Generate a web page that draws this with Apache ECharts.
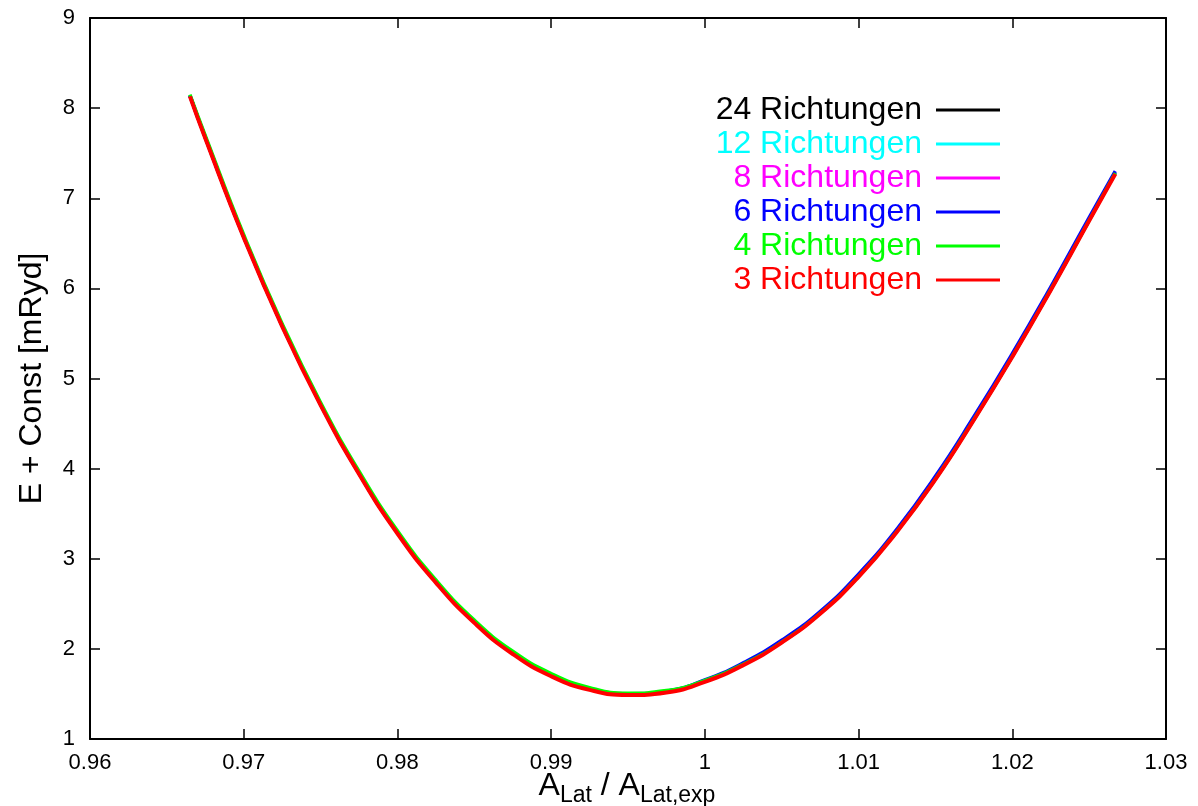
<!DOCTYPE html>
<html>
<head>
<meta charset="utf-8">
<script src="https://cdn.jsdelivr.net/npm/echarts@6/dist/echarts.min.js"></script>
<style>
html,body{margin:0;padding:0;background:#fff;}
#chart{width:1198px;height:806px;}
</style>
</head>
<body>
<div id="chart"></div>
<script>
// ---- data ----
const xs  = [0.9665, 0.9675, 0.97, 0.9725, 0.975, 0.9775, 0.98, 0.9825, 0.985, 0.9875, 0.99, 0.9925, 0.995, 0.9975, 1.0, 1.0025, 1.005, 1.0075, 1.01, 1.0125, 1.015, 1.0175, 1.02, 1.0225, 1.025, 1.0267];
const e24 = [8.14, 7.675, 6.575, 5.588, 4.714, 3.951, 3.29, 2.745, 2.299, 1.953, 1.706, 1.555, 1.498, 1.527, 1.645, 1.83, 2.08, 2.40, 2.81, 3.31, 3.89, 4.55, 5.25, 5.99, 6.76, 7.285];
const e12 = [8.14, 7.675, 6.575, 5.588, 4.714, 3.951, 3.29, 2.745, 2.299, 1.953, 1.706, 1.555, 1.498, 1.527, 1.645, 1.83, 2.08, 2.40, 2.81, 3.31, 3.89, 4.55, 5.25, 5.99, 6.76, 7.285];
const e8  = [8.14, 7.675, 6.575, 5.588, 4.714, 3.951, 3.29, 2.745, 2.299, 1.955, 1.71, 1.56, 1.503, 1.53, 1.645, 1.83, 2.08, 2.40, 2.81, 3.31, 3.89, 4.55, 5.25, 5.99, 6.76, 7.285];
const e6  = [8.14, 7.675, 6.575, 5.588, 4.714, 3.951, 3.29, 2.745, 2.299, 1.953, 1.706, 1.555, 1.498, 1.53, 1.655, 1.845, 2.095, 2.415, 2.83, 3.33, 3.915, 4.575, 5.275, 6.015, 6.785, 7.30];
const e4  = [8.15, 7.695, 6.595, 5.608, 4.734, 3.971, 3.31, 2.765, 2.319, 1.973, 1.726, 1.57, 1.508, 1.537, 1.65, 1.83, 2.075, 2.395, 2.805, 3.305, 3.885, 4.545, 5.245, 5.985, 6.755, 7.28];
const e3  = [8.13, 7.665, 6.565, 5.578, 4.704, 3.941, 3.28, 2.735, 2.289, 1.943, 1.696, 1.545, 1.488, 1.517, 1.635, 1.82, 2.07, 2.39, 2.80, 3.30, 3.88, 4.54, 5.24, 5.98, 6.75, 7.27];
const seriesNames = ['24 Richtungen', '12 Richtungen', '8 Richtungen', '6 Richtungen', '4 Richtungen', '3 Richtungen'];
const seriesColors = ['#000000', '#00ffff', '#ff00ff', '#0000ff', '#00ff00', '#ff0000'];
const seriesValues = [e24, e12, e8, e6, e4, e3];
const xTicks = [0.96, 0.97, 0.98, 0.99, 1.0, 1.01, 1.02, 1.03];
const yTicks = [1, 2, 3, 4, 5, 6, 7, 8, 9];

const FONT = '"Liberation Sans", Arial, Helvetica, sans-serif';
const chart = echarts.init(document.getElementById('chart'), null, {renderer: 'canvas'});

const series = seriesNames.map((name, i) => ({
  name: name,
  type: 'line',
  xAxisIndex: 0,
  yAxisIndex: 0,
  data: xs.map((x, j) => [x, seriesValues[i][j]]),
  smooth: true,
  showSymbol: false,
  symbol: 'none',
  lineStyle: {color: seriesColors[i], width: i === 5 ? 4 : 3.5},
  itemStyle: {color: seriesColors[i]},
  z: 2 + i
}));

const axisCommon = {
  type: 'value',
  axisLine: {show: true, onZero: false, lineStyle: {color: '#000', width: 2}},
  axisTick: {show: true, inside: true, length: 10, lineStyle: {color: '#000', width: 1.5}},
  splitLine: {show: false},
  minorTick: {show: false}
};

const option = {
  animation: false,
  backgroundColor: '#ffffff',
  grid: {left: 90, right: 32, top: 18, bottom: 67, containLabel: false},
  legend: {
    orient: 'vertical',
    align: 'right',
    right: 193,
    top: 89,
    icon: 'rect',
    itemWidth: 64,
    itemHeight: 3,
    itemGap: 2,
    selectedMode: false,
    textStyle: {fontFamily: FONT, fontSize: 32, padding: [0, 9, 0, 0]},
    data: seriesNames.map((n, i) => ({name: n, textStyle: {color: seriesColors[i]}}))
  },
  xAxis: [
    Object.assign({}, axisCommon, {
      position: 'bottom',
      min: xTicks[0], max: xTicks[xTicks.length - 1], interval: 0.01,
      axisLabel: {show: true, color: '#000', fontFamily: FONT, fontSize: 22, margin: 13,
        formatter: v => String(+v.toFixed(2))}
    }),
    Object.assign({}, axisCommon, {
      position: 'top',
      min: xTicks[0], max: xTicks[xTicks.length - 1], interval: 0.01,
      axisLabel: {show: false}
    })
  ],
  yAxis: [
    Object.assign({}, axisCommon, {
      position: 'left',
      min: yTicks[0], max: yTicks[yTicks.length - 1], interval: 1,
      name: 'E + Const [mRyd]',
      nameLocation: 'middle',
      nameGap: 42,
      nameTextStyle: {color: '#000', fontFamily: FONT, fontSize: 32},
      axisLabel: {show: true, color: '#000', fontFamily: FONT, fontSize: 22, margin: 15}
    }),
    Object.assign({}, axisCommon, {
      position: 'right',
      min: yTicks[0], max: yTicks[yTicks.length - 1], interval: 1,
      axisLabel: {show: false}
    })
  ],
  graphic: [{
    type: 'text',
    x: 627,
    y: 786,
    style: {
      text: '{a|A}{s|Lat}{a| / A}{s|Lat,exp}',
      align: 'center',
      verticalAlign: 'middle',
      fill: '#000',
      rich: {
        a: {fontFamily: FONT, fontSize: 32, lineHeight: 42, verticalAlign: 'middle', fill: '#000'},
        s: {fontFamily: FONT, fontSize: 23, lineHeight: 22, verticalAlign: 'bottom', fill: '#000'}
      }
    }
  }],
  series: series
};
chart.setOption(option);
</script>
</body>
</html>
